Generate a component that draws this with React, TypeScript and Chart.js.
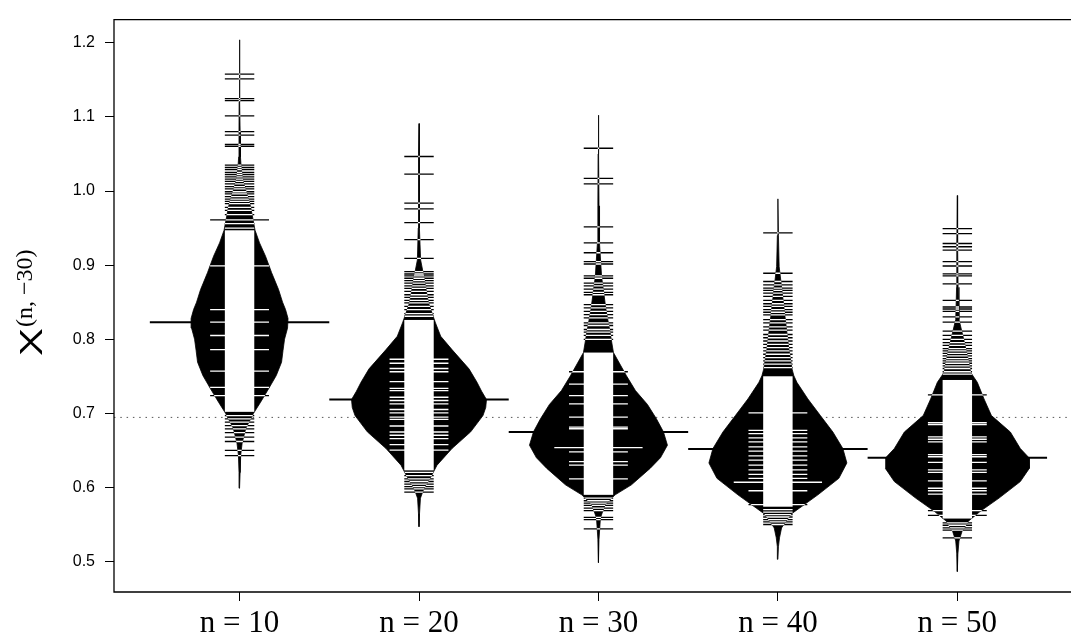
import React, { useEffect, useRef } from "react";
import { Chart, registerables } from "chart.js";
Chart.register(...registerables);

// ---------- data ----------
const categories = ["n = 10", "n = 20", "n = 30", "n = 40", "n = 50"];
const positions = [1, 2, 3, 4, 5];
const yTicks = [0.5, 0.6, 0.7, 0.8, 0.9, 1.0, 1.1, 1.2];
const beanMeans = [0.823, 0.7186, 0.6748, 0.6517, 0.64];
const overallMean = 0.6945;

// density outlines: value grid and half-width (x-axis units)
const bean1Grid = [0.599, 0.62, 0.644, 0.66, 0.68, 0.7, 0.715, 0.733, 0.751, 0.769, 0.785, 0.8, 0.815, 0.828, 0.84, 0.85, 0.867, 0.89, 0.912, 0.93, 0.947, 0.965, 0.979, 0.995, 1.014, 1.03, 1.046, 1.08, 1.12, 1.16, 1.204];
const bean1Dens = [0, 0.003, 0.0065, 0.0145, 0.035, 0.078, 0.117, 0.1616, 0.2045, 0.234, 0.2423, 0.2507, 0.2674, 0.2702, 0.2563, 0.2396, 0.2173, 0.1783, 0.1448, 0.1114, 0.0864, 0.0724, 0.0613, 0.0418, 0.0185, 0.0095, 0.005, 0.0032, 0.0024, 0.002, 0];
const bean2Grid = [0.547, 0.565, 0.5855, 0.599, 0.617, 0.63, 0.6525, 0.675, 0.697, 0.708, 0.7186, 0.7297, 0.742, 0.76, 0.786, 0.804, 0.822, 0.849, 0.8935, 0.907, 0.95, 1.0, 1.05, 1.091];
const bean2Dens = [0, 0.003, 0.008, 0.0279, 0.0724, 0.1003, 0.1838, 0.288, 0.3565, 0.372, 0.376, 0.349, 0.3231, 0.2786, 0.1838, 0.1209, 0.0919, 0.0529, 0.02, 0.009, 0.0042, 0.003, 0.002, 0];
const bean3Grid = [0.4986, 0.53, 0.5588, 0.577, 0.59, 0.6035, 0.6257, 0.64, 0.657, 0.675, 0.6926, 0.712, 0.7307, 0.7507, 0.782, 0.8087, 0.84, 0.8846, 0.929, 0.98, 1.05, 1.1023];
const bean3Dens = [0, 0.003, 0.011, 0.0373, 0.093, 0.1838, 0.288, 0.3454, 0.3844, 0.3621, 0.3231, 0.273, 0.2061, 0.156, 0.0836, 0.0652, 0.0420, 0.0175, 0.006, 0.0032, 0.002, 0];
const bean4Grid = [0.503, 0.52, 0.532, 0.5454, 0.5633, 0.5722, 0.59, 0.6123, 0.633, 0.6525, 0.6748, 0.697, 0.7194, 0.7418, 0.7507, 0.7596, 0.7864, 0.831, 0.8756, 0.898, 0.94, 0.9894];
const bean4Dens = [0, 0.003, 0.009, 0.0205, 0.0696, 0.1209, 0.2228, 0.3398, 0.3844, 0.3621, 0.3064, 0.2368, 0.1671, 0.1058, 0.0891, 0.0791, 0.0613, 0.0395, 0.018, 0.007, 0.003, 0];
const bean5Grid = [0.4865, 0.51, 0.5277, 0.541, 0.5544, 0.5678, 0.5856, 0.6079, 0.6257, 0.64, 0.6525, 0.6748, 0.697, 0.7194, 0.7418, 0.7552, 0.773, 0.8, 0.8177, 0.8265, 0.87, 0.93, 0.9939];
const bean5Dens = [0, 0.003, 0.009, 0.0265, 0.0613, 0.1281, 0.2323, 0.351, 0.4011, 0.3994, 0.351, 0.2953, 0.19, 0.1487, 0.1114, 0.0741, 0.0602, 0.0353, 0.018, 0.009, 0.0042, 0.003, 0];

// range where the bean lines merge into a solid band
const bean1Core = [0.702, 0.947];
const bean2Core = [0.623, 0.826];
const bean3Core = [0.59, 0.782];
const bean4Core = [0.574, 0.75];
const bean5Core = [0.558, 0.745];

// single observations (bean lines)
const bean1Obs = [1.1577, 1.1514, 1.1246, 1.122, 1.1015, 1.08, 1.0755, 1.063, 1.0604, 1.035, 1.032, 1.029, 1.025, 1.022, 1.019, 1.016, 1.013, 1.0095, 1.006, 1.003, 0.999, 0.996, 0.9925, 0.989, 0.986, 0.983, 0.978, 0.974, 0.968, 0.956, 0.95, 0.697, 0.6925, 0.688, 0.6835, 0.679, 0.674, 0.668, 0.662, 0.65, 0.643];
const bean2Obs = [1.0466, 1.0229, 0.9837, 0.976, 0.9573, 0.9345, 0.909, 0.8913, 0.888, 0.8854, 0.8823, 0.8792, 0.8756, 0.872, 0.8685, 0.8645, 0.86, 0.8565, 0.8525, 0.849, 0.8444, 0.84, 0.8346, 0.831, 0.6204, 0.616, 0.6115, 0.608, 0.6044, 0.6012, 0.598, 0.5936];
const bean3Obs = [1.0577, 1.0171, 1.0095, 0.9515, 0.93, 0.9167, 0.9047, 0.9015, 0.8854, 0.8823, 0.8756, 0.872, 0.8676, 0.8632, 0.86, 0.8466, 0.8422, 0.8377, 0.8332, 0.8288, 0.8221, 0.8185, 0.8131, 0.8096, 0.8051, 0.7998, 0.5856, 0.582, 0.5789, 0.5758, 0.5722, 0.5687, 0.5597, 0.5566, 0.544];
const bean4Obs = [0.9435, 0.889, 0.8779, 0.8734, 0.869, 0.8659, 0.8622, 0.8578, 0.8525, 0.8479, 0.8444, 0.84, 0.8364, 0.8328, 0.8265, 0.8221, 0.8167, 0.8123, 0.8064, 0.802, 0.7976, 0.7931, 0.7886, 0.7842, 0.7797, 0.7752, 0.7708, 0.7663, 0.7618, 0.57, 0.5668, 0.5633, 0.5601, 0.5566, 0.5534, 0.55];
const bean5Obs = [0.9493, 0.9426, 0.9292, 0.9248, 0.9202, 0.9047, 0.8988, 0.8881, 0.8854, 0.8747, 0.8525, 0.8435, 0.8408, 0.8377, 0.8301, 0.823, 0.811, 0.8051, 0.7998, 0.7953, 0.7917, 0.7873, 0.7842, 0.781, 0.7775, 0.7739, 0.7708, 0.7676, 0.7641, 0.7605, 0.7561, 0.7529, 0.5521, 0.549, 0.5454, 0.5423, 0.532];

// repeated observations (two identical values)
const bean1Obs2 = [0.961, 0.899, 0.84, 0.823, 0.805, 0.786, 0.757, 0.735, 0.724];
const bean2Obs2 = [0.773, 0.7676, 0.7605, 0.7561, 0.7427, 0.7337, 0.7307, 0.7217, 0.7173, 0.7128, 0.7052, 0.7007, 0.6949, 0.6918, 0.6829, 0.6748, 0.6704, 0.6659, 0.6578, 0.6503];
const bean3Obs2 = [0.7561, 0.7395, 0.724, 0.7128, 0.6949, 0.6815, 0.6792, 0.648, 0.6347, 0.6302, 0.6115];
const bean4Obs2 = [0.7007, 0.6771, 0.6726, 0.6668, 0.6614, 0.6548, 0.649, 0.6427, 0.6369, 0.6302, 0.6236, 0.6177, 0.6123, 0.5955, 0.5767];
const bean5Obs2 = [0.7248, 0.6873, 0.6847, 0.6681, 0.665, 0.6614, 0.6444, 0.6414, 0.6338, 0.6236, 0.6204, 0.6088, 0.5989, 0.5955, 0.591, 0.5687, 0.5624];

// three identical values
const bean3Obs3 = [0.6538];
const bean4Obs3 = [0.607];

// ---------- assembly ----------
const beanGrids = [bean1Grid, bean2Grid, bean3Grid, bean4Grid, bean5Grid];
const beanDens = [bean1Dens, bean2Dens, bean3Dens, bean4Dens, bean5Dens];
const beanCores = [bean1Core, bean2Core, bean3Core, bean4Core, bean5Core];
const beanObs1 = [bean1Obs, bean2Obs, bean3Obs, bean4Obs, bean5Obs];
const beanObs2 = [bean1Obs2, bean2Obs2, bean3Obs2, bean4Obs2, bean5Obs2];
const beanObs3 = [[], [], bean3Obs3, bean4Obs3, []];

const X_MIN = 0.3003;
const X_MAX = 5.6334;
const Y_MIN = 0.4589;
const Y_MAX = 1.2313;
const LINE_HALF = 0.082; // half length of one bean line, x units
const MEAN_HALF = 0.5;

const beanPlugin = {
  id: "beanlines",
  beforeDraw(chart: any) {
    const { ctx, width, height } = chart;
    ctx.save();
    ctx.fillStyle = "#fff";
    ctx.fillRect(0, 0, width, height);
    ctx.restore();
  },
  afterDatasetsDraw(chart: any) {
    const { ctx, chartArea, scales } = chart;
    const xs = scales.x;
    const ys = scales.y;
    positions.forEach((p, i) => {
      const grid = beanGrids[i];
      const dens = beanDens[i];
      const core = beanCores[i];
      const drawAll = (color: string) => {
        ctx.fillStyle = color;
        ctx.strokeStyle = color;
        const x0 = xs.getPixelForValue(p - LINE_HALF);
        const x1 = xs.getPixelForValue(p + LINE_HALF);
        const yTop = ys.getPixelForValue(core[1]);
        const yBot = ys.getPixelForValue(core[0]);
        ctx.fillRect(x0, yTop, x1 - x0, yBot - yTop);
        ctx.lineWidth = 1.3;
        const groups: [number[], number][] = [
          [beanObs1[i], 1],
          [beanObs2[i], 2],
          [beanObs3[i], 3],
        ];
        groups.forEach(([vals, cnt]) => {
          vals.forEach((v) => {
            const y = ys.getPixelForValue(v);
            ctx.beginPath();
            ctx.moveTo(xs.getPixelForValue(p - LINE_HALF * cnt), y);
            ctx.lineTo(xs.getPixelForValue(p + LINE_HALF * cnt), y);
            ctx.stroke();
          });
        });
      };
      ctx.save();
      ctx.beginPath();
      ctx.rect(chartArea.left, chartArea.top, chartArea.right - chartArea.left, chartArea.bottom - chartArea.top);
      ctx.clip();
      drawAll("#000");
      ctx.beginPath();
      grid.forEach((v, k) => {
        const px = xs.getPixelForValue(p - dens[k]) - 0.4;
        const py = ys.getPixelForValue(v);
        if (k === 0) ctx.moveTo(px, py);
        else ctx.lineTo(px, py);
      });
      for (let k = grid.length - 1; k >= 0; k--) {
        ctx.lineTo(xs.getPixelForValue(p + dens[k]) + 0.4, ys.getPixelForValue(grid[k]));
      }
      ctx.closePath();
      ctx.clip();
      drawAll("#fff");
      ctx.restore();
    });
  },
  afterDraw(chart: any) {
    const { ctx, chartArea } = chart;
    ctx.save();
    ctx.strokeStyle = "#000";
    ctx.lineWidth = 1.3;
    ctx.beginPath();
    ctx.moveTo(chartArea.right + 2, chartArea.top);
    ctx.lineTo(chartArea.left, chartArea.top);
    ctx.lineTo(chartArea.left, chartArea.bottom);
    ctx.lineTo(chartArea.right + 2, chartArea.bottom);
    ctx.stroke();
    // y axis title
    ctx.fillStyle = "#000";
    ctx.translate(42, 356);
    ctx.rotate(-Math.PI / 2);
    ctx.textBaseline = "alphabetic";
    ctx.textAlign = "left";
    ctx.font = '31px "Liberation Sans"';
    ctx.save();
    ctx.scale(1.35, 1);
    ctx.fillText("Χ", 0, 0);
    ctx.restore();
    const w = ctx.measureText("Χ").width * 1.35;
    ctx.font = '24px "Liberation Serif"';
    ctx.fillText("(n, −30)", w + 1, -10);
    ctx.restore();
  },
};

export default function App() {
  const ref = useRef<HTMLCanvasElement>(null);
  useEffect(() => {
    const canvas = ref.current;
    if (!canvas) return;
    const datasets: any[] = [];
    datasets.push({
      data: [
        { x: X_MIN, y: overallMean },
        { x: X_MAX, y: overallMean },
      ],
      borderColor: "#555",
      borderWidth: 1,
      borderDash: [1.5, 4.8],
      pointRadius: 0,
      showLine: true,
      order: 3,
    });
    positions.forEach((p, i) => {
      datasets.push({
        data: [
          { x: p - MEAN_HALF, y: beanMeans[i] },
          { x: p + MEAN_HALF, y: beanMeans[i] },
        ],
        borderColor: "#000",
        borderWidth: 2,
        pointRadius: 0,
        showLine: true,
        order: 2,
      });
    });
    positions.forEach((p, i) => {
      const g = beanGrids[i];
      const d = beanDens[i];
      const left = g.map((v, k) => ({ x: p - d[k], y: v }));
      const right = g.map((v, k) => ({ x: p + d[k], y: v })).reverse();
      datasets.push({
        data: [...left, ...right],
        borderColor: "#000",
        backgroundColor: "#000",
        borderWidth: 0.8,
        fill: "shape",
        pointRadius: 0,
        tension: 0,
        showLine: true,
        order: 1,
      });
    });

    const chart = new Chart(canvas, {
      type: "scatter",
      data: { datasets },
      options: {
        animation: false,
        responsive: false,
        devicePixelRatio: 1,
        events: [],
        layout: { padding: { top: 14, left: 0, right: 0, bottom: 0 } },
        plugins: { legend: { display: false }, tooltip: { enabled: false } },
        scales: {
          x: {
            type: "linear",
            min: X_MIN,
            max: X_MAX,
            afterFit: (s: any) => {
              s.height = 44;
            },
            afterBuildTicks: (s: any) => {
              s.ticks = positions.map((v) => ({ value: v }));
            },
            ticks: {
              callback: (_v: any, i: number) => categories[i],
              font: { family: "Liberation Serif", size: 31 },
              color: "#000",
              padding: 4,
              maxRotation: 0,
              autoSkip: false,
            },
            grid: { drawOnChartArea: false, tickLength: 9, color: "#000", lineWidth: 1 },
            border: { display: false },
          },
          y: {
            type: "linear",
            min: Y_MIN,
            max: Y_MAX,
            afterFit: (s: any) => {
              s.width = 114;
            },
            afterBuildTicks: (s: any) => {
              s.ticks = yTicks.map((v) => ({ value: v }));
            },
            ticks: {
              callback: (v: any) => Number(v).toFixed(1),
              font: { family: "Liberation Sans", size: 16 },
              color: "#000",
              padding: 10,
            },
            grid: { drawOnChartArea: false, tickLength: 9, color: "#000", lineWidth: 1 },
            border: { display: false },
          },
        },
      },
      plugins: [beanPlugin],
    });
    return () => chart.destroy();
  }, []);
  return (
    <div style={{ position: "absolute", left: 0, top: 0, width: 1071, height: 636 }}>
      <canvas ref={ref} width={1071} height={636} style={{ display: "block" }} />
    </div>
  );
}
